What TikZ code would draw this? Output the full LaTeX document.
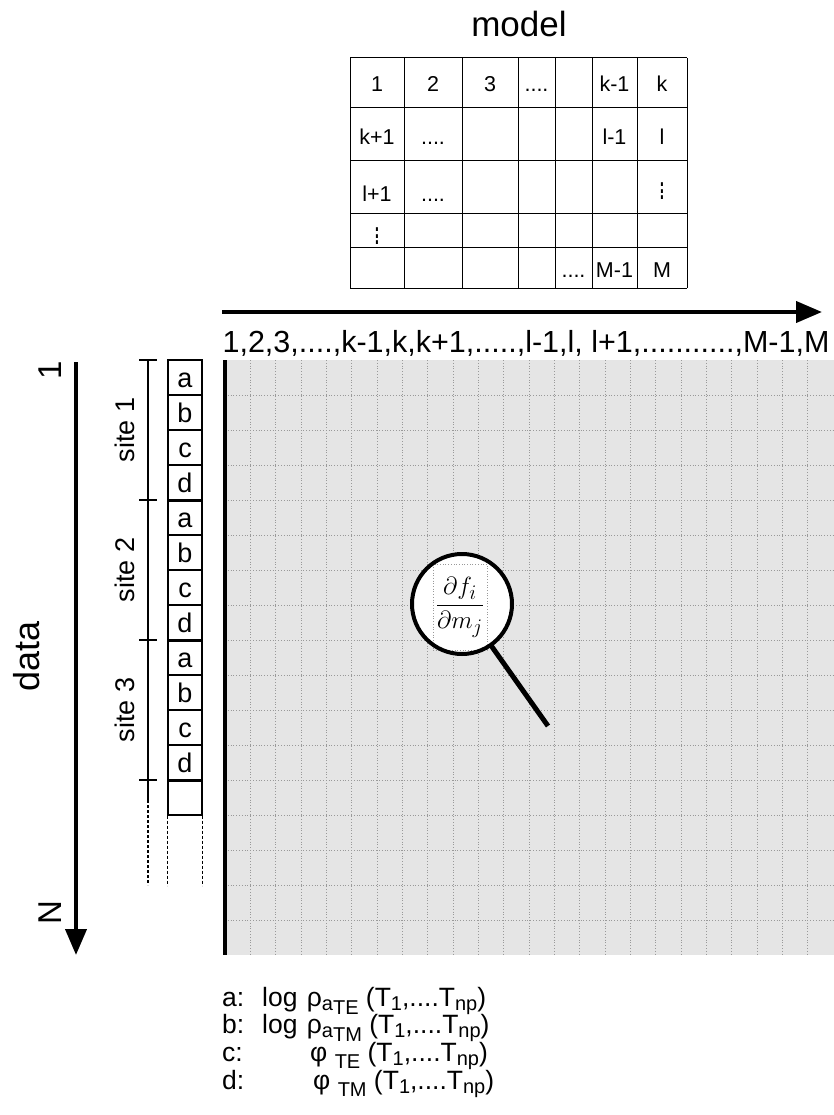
\documentclass[tikz,border=0pt]{standalone}
\usepackage{fontspec}
\setmainfont{Liberation Sans}
\usetikzlibrary{arrows.meta, positioning}
\newcommand{\setfs}[1]{\fontsize{#1}{#1}\selectfont}
\newcommand{\subtx}[2]{\raisebox{-#1pt}{\setfs{20}#2}}
\newcommand{\fourdots}{....}
\newcommand{\tallvdots}{\scalebox{1}[1.7]{$\vdots$}}

\begin{document}
\begin{tikzpicture}[x=1pt,y=-1pt,
  cell/.style={anchor=base,font=\setfs{21.5}},
  box/.style={draw,line width=1.2pt,fill=white,minimum width=34pt,minimum height=35pt,
    inner sep=0pt,text height=20pt,text depth=0pt,font=\setfs{27}},
  ax/.style={line width=4pt,-{Triangle[length=26pt,width=21pt]}},
  gridline/.style={gray!80,dotted,line width=0.8pt},
  sitelbl/.style={rotate=90,font=\setfs{27}},
  tail/.style={line width=1.5pt,dash pattern=on 3pt off 2pt},
  leg/.style={anchor=base west,inner sep=0pt,font=\setfs{26.5}}]
 \useasboundingbox (0,0) rectangle (834,1115);

 \node[anchor=base,font=\setfs{35}] (model) at (519,37) {model};
 \foreach \x in {350,404,462,518,555,592,637,687}
   \draw[line width=1pt] (\x,58) -- (\x,288);
 \foreach \y in {58,108,161,214,247,288}
   \draw[line width=1pt] (350,\y) -- (687,\y);
 \foreach \n/\xx/\yy/\txt in {11/377/92/1, 12/433/92/2, 13/490/92/3, 14/536.5/92/\fourdots,
     16/614.5/92/k-1, 17/662/92/k, 21/377/145/k+1, 22/433/145/\fourdots,
     26/614.5/145/l-1, 27/662/145/l, 31/377/202/l+1, 32/433/202/\fourdots,
     55/573.5/277/\fourdots, 56/614.5/277/M-1, 57/662/277/M}
   \node[cell] (t\n) at (\xx,\yy) {\txt};
 \node[font=\setfs{21},inner sep=0pt] (t37) at (662,186) {\tallvdots};
 \node[font=\setfs{21},inner sep=0pt] (t41) at (377,231) {\tallvdots};

 \coordinate (mstart) at (222,312);
 \coordinate (mend) at (822,312);
 \draw[ax] (mstart) -- (mend);
 \node[anchor=base,font=\setfs{30.5}] (mlist) at (526,352)
   {1,2,3,....,k-1,k,k+1,.....,l-1,l, l+1,...........,M-1,M};

 \fill[gray!20] (225,360) rectangle (834,955);
 \foreach \i in {1,...,23}
   \draw[gridline] ({225+\i*25.33},360) -- ({225+\i*25.33},955);
 \foreach \j in {1,...,16}
   \draw[gridline] (225,{360+\j*35}) -- (834,{360+\j*35});
 \draw[line width=3.5pt] (225,360) -- (225,955);

 \coordinate (dstart) at (76,362);
 \coordinate (dend) at (76,955);
 \draw[ax] (dstart) -- (dend);
 \node[rotate=90,font=\setfs{33}] (first) at (50,370) {1};
 \node[rotate=90,font=\setfs{33}] (last) at (50,913) {N};
 \node[rotate=90,font=\setfs{36}] (data) at (27,656) {data};

 \foreach \l [count=\i from 0] in {a,b,c,d,a,b,c,d,a,b,c,d,{}}
   \node[box] (b\i) at (185,{377.5+35*\i}) {\l};
 \foreach \i in {3,7,11}
   \draw[line width=3pt] (b\i.south west) -- (b\i.south east);
 \draw[tail] (b12.south west) -- ++(0,70);
 \draw[tail] (b12.south east) -- ++(0,70);

 \draw[line width=1.2pt] (148,360) -- (148,800);
 \draw[tail] (148,800) -- (148,885);
 \foreach \y in {360,500,640,780}
   \draw[line width=1.2pt] (139,\y) -- (157,\y);
 \foreach \s in {1,2,3}
   \node[sitelbl] (site\s) at (125,{290+140*\s}) {site \s};

 \coordinate (grip) at (548,726);
 \node[circle,fill=white,minimum size=100pt,inner sep=0pt] (lens) at (462,604) {};
 \draw[line width=5pt] (lens.-55) -- (grip);
 \node[draw=gray!80,dotted,line width=0.7pt,minimum width=54pt,minimum height=86pt,inner sep=0pt,
   font=\setfs{29}] (dfdm) at (460,607) {$\displaystyle\frac{\partial f_i}{\partial m_j}$};
 \node[circle,draw,line width=4pt,minimum size=100pt,inner sep=0pt] (rim) at (lens) {};

 \node[leg] (la) at (222,1006) {a:};
 \node[leg] (lb) at (222,1033) {b:};
 \node[leg] (lc) at (222,1061) {c:};
 \node[leg] (ld) at (222,1089) {d:};
 \node[leg] (fa) at (262,1006)
   {log\hspace{0.35em}ρ\subtx{4}{a}\subtx{8}{TE} (T\subtx{4}{1},....T\subtx{4}{np})};
 \node[leg] (fb) at (262,1033)
   {log\hspace{0.35em}ρ\subtx{4}{a}\subtx{8}{TM} (T\subtx{4}{1},....T\subtx{4}{np})};
 \node[leg] (fc) at (310,1061) {φ\ \subtx{7}{TE} (T\subtx{4}{1},....T\subtx{4}{np})};
 \node[leg] (fd) at (313,1089) {φ\ \subtx{7}{TM} (T\subtx{4}{1},....T\subtx{4}{np})};
\end{tikzpicture}
\end{document}
